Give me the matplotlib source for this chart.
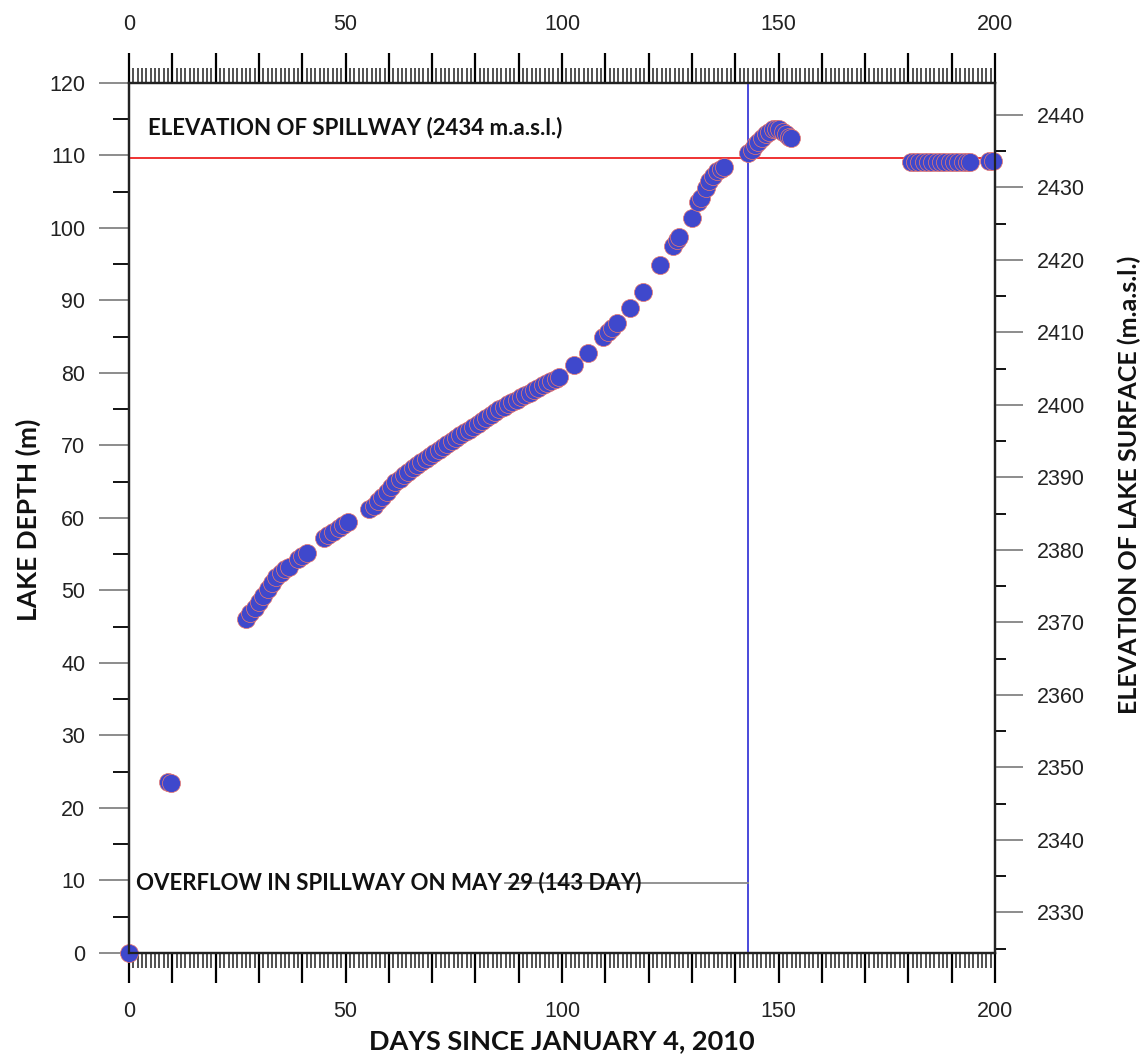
import matplotlib.pyplot as plt
from matplotlib.ticker import MultipleLocator, FuncFormatter

# Lake level readings (days since Jan 4, 2010 / lake depth in m)
days = [0, 9.0, 9.6,
        27, 28, 29, 30, 31, 32, 33, 34, 35, 36, 37,
        39, 40, 41,
        45, 46, 47, 48.5, 49.5, 50.5,
        55.5, 56.5, 57.5, 58.5, 59.5, 60.5, 61.5, 62.5, 63.5, 64.5,
        65.5, 66.5, 67.5, 68.5, 69.5, 70.5, 71.5, 72.5, 73.5, 74.5,
        75.5, 76.5, 77.5, 78.5, 79.5, 80.5, 81.5, 82.5, 83.5, 84.5,
        85.5, 86.5, 87.5, 88.5, 89.5, 90.5, 91.5, 92.5, 93.5, 94.5,
        95.5, 96.5, 97.5, 98.5, 99.2,
        102.8, 106.0,
        109.5, 110.5, 111.5, 112.7, 115.7, 118.7, 122.6,
        125.6, 126.5, 127.0, 130.0, 131.5, 132.2, 133.2, 134.0, 134.8,
        135.8, 136.8, 137.5,
        143.0, 143.8, 144.5, 145.3, 146.2, 147.0, 147.8, 148.6, 149.4,
        150.2, 151.0, 151.8, 152.5, 152.8,
        180.5, 181.5, 182.5, 183.5, 184.5, 185.5, 186.5, 187.5, 188.5,
        189.5, 190.5, 191.5, 192.5, 193.5, 194.2,
        198.5, 199.5]
depth = [0, 23.6, 23.4,
         46.0, 46.9, 47.6, 48.4, 49.3, 50.2, 51.0, 51.8, 52.4, 52.9, 53.3,
         54.3, 54.8, 55.2,
         57.2, 57.7, 58.1, 58.6, 59.1, 59.5,
         61.2, 61.7, 62.3, 62.9, 63.6, 64.3, 64.9, 65.4, 65.9, 66.4,
         66.9, 67.3, 67.7, 68.2, 68.6, 69.0, 69.4, 69.8, 70.2, 70.6,
         71.0, 71.4, 71.8, 72.2, 72.6, 73.0, 73.4, 73.8, 74.2, 74.6,
         75.0, 75.3, 75.7, 76.0, 76.3, 76.7, 77.0, 77.3, 77.6, 77.9,
         78.3, 78.6, 78.9, 79.2, 79.4,
         81.1, 82.8,
         85.0, 85.6, 86.2, 86.9, 89.0, 91.2, 94.9,
         97.5, 98.3, 98.8, 101.4, 103.6, 104.1, 105.5, 106.5, 107.2,
         107.8, 108.2, 108.4,
         110.3, 110.8, 111.4, 111.9, 112.4, 112.9, 113.3, 113.6, 113.7,
         113.6, 113.3, 112.9, 112.6, 112.4,
         109.1, 109.1, 109.1, 109.1, 109.1, 109.1, 109.1, 109.1, 109.1,
         109.1, 109.1, 109.1, 109.1, 109.1, 109.1,
         109.3, 109.3]

spillway_depth = 109.6      # 2434 m.a.s.l.
spillway_elev = 2434
overflow_day = 143
overflow_label_depth = 9.7
overflow_line_start = 86.8

title_font = 'Lato'
tick_font = 'Liberation Sans'

fig = plt.figure(figsize=(11.46, 10.57), dpi=100)
ax = fig.add_axes([0.1126, 0.0984, 0.7557, 0.8231])
ax.set_xlim(0, 200)
ax.set_ylim(0, 120)

# data points
ax.plot(days, depth, 'o', ms=13, mfc='#3f48cc', mec='#f0796a', mew=0.5,
        clip_on=False, zorder=5)

# reference lines
ax.axhline(spillway_depth, color='#ee2222', lw=1.3, zorder=3)
ax.axvline(overflow_day, color='#3a3ad8', lw=1.3, zorder=3)
ax.plot([overflow_line_start, overflow_day], [overflow_label_depth, overflow_label_depth],
        color='#8a8a8a', lw=1.3, zorder=3)

ax.text(4.4, 113.8, f"ELEVATION OF SPILLWAY ({spillway_elev} m.a.s.l.)",
        fontfamily=title_font, fontweight='bold', fontsize=16, va='center', color='#111')
ax.text(1.6, overflow_label_depth, "OVERFLOW IN SPILLWAY ON MAY 29 (143 DAY)",
        fontfamily=title_font, fontweight='bold', fontsize=16, va='center', color='#111')

# x axes (bottom and top)
ax.xaxis.set_major_locator(MultipleLocator(10))
ax.xaxis.set_minor_locator(MultipleLocator(1))
ax.xaxis.set_major_formatter(FuncFormatter(lambda v, p: f"{v:.0f}" if v % 50 == 0 else ""))
ax.tick_params(axis='x', which='both', top=True, labeltop=True, direction='out')
ax.tick_params(axis='x', which='major', length=21.6, width=1.6, pad=13,
               labelsize=15.5, labelcolor='#222')
ax.tick_params(axis='x', which='minor', length=11, width=1.1, color='#222')
for i, t in enumerate(ax.xaxis.get_major_ticks()):
    c = '#111111' if i % 2 == 0 else '#8f8f8f'
    t.tick1line.set_color(c)
    t.tick2line.set_color(c)

# left y axis
ax.yaxis.set_major_locator(MultipleLocator(10))
ax.yaxis.set_minor_locator(MultipleLocator(5))
ax.tick_params(axis='y', which='both', right=False, direction='out')
ax.tick_params(axis='y', which='major', length=21.6, width=1.4, color='#8c8c8c',
               pad=10, labelsize=15.5, labelcolor='#222')
ax.tick_params(axis='y', which='minor', length=11.5, width=1.4, color='#111')

# right y axis: elevation of lake surface
ax2 = ax.twinx()
ax2.set_ylim(spillway_elev - spillway_depth, spillway_elev - spillway_depth + 120)
ax2.yaxis.set_major_locator(MultipleLocator(10))
ax2.yaxis.set_minor_locator(MultipleLocator(5))
ax2.tick_params(axis='y', which='major', length=20, width=1.4, color='#8c8c8c',
                pad=10, labelsize=15.5, labelcolor='#222')
ax2.tick_params(axis='y', which='minor', length=8, width=1.4, color='#111')

for a in (ax, ax2):
    for s in a.spines.values():
        s.set_linewidth(1.6)
        s.set_color('#222')
for lab in ax.get_xticklabels() + ax.get_yticklabels() + ax2.get_yticklabels():
    lab.set_fontfamily(tick_font)

# axis titles
fig.text(562 / 1146, 1 - 1041 / 1057, "DAYS SINCE JANUARY 4, 2010", fontfamily=title_font,
         fontweight='bold', fontsize=19.5, ha='center', va='center', color='#111')
fig.text(28 / 1146, 1 - 520 / 1057, "LAKE DEPTH (m)", fontfamily=title_font,
         fontweight='bold', fontsize=19, ha='center', va='center', rotation=90, color='#111')
fig.text(1129 / 1146, 1 - 485 / 1057, "ELEVATION OF LAKE SURFACE (m.a.s.l.)", fontfamily=title_font,
         fontweight='bold', fontsize=18, ha='center', va='center', rotation=90, color='#111')

fig.savefig('out.png', dpi=100)
